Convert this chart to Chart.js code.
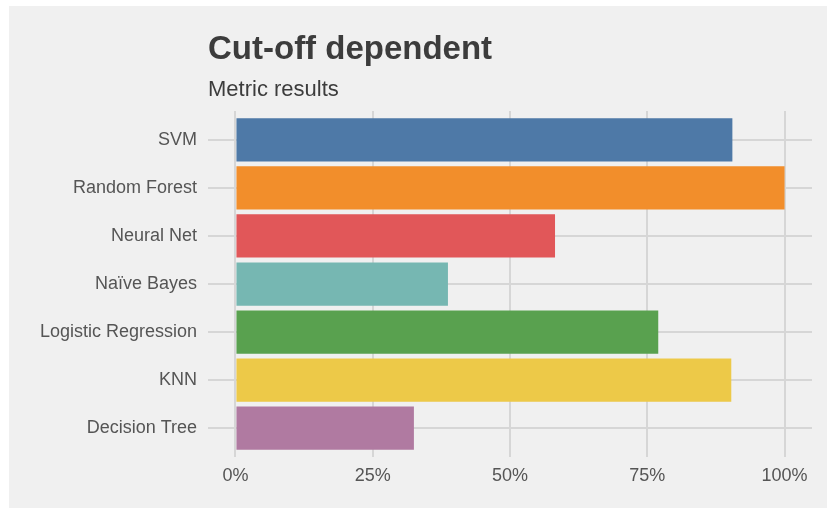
<!DOCTYPE html>
<html>
<head>
<meta charset="utf-8">
<script src="https://cdn.jsdelivr.net/npm/chart.js@4"></script>
<style>
  html, body { margin: 0; padding: 0; background: #ffffff; }
  #panel { position: absolute; left: 9px; top: 6px; width: 818px; height: 502px; background: #f0f0f0; }
  canvas { display: block; }
</style>
</head>
<body>
<div id="panel"><canvas id="chart" width="818" height="502"></canvas></div>
<script>
// Models, top to bottom
const categories = ['SVM', 'Random Forest', 'Neural Net', 'Naïve Bayes', 'Logistic Regression', 'KNN', 'Decision Tree'];
// Metric score per model, in percent
const scores = [90.5, 100, 58.2, 38.7, 77.0, 90.3, 32.5];
// Bar fill per model
const barColors = ['#4e79a7', '#f28e2b', '#e15759', '#76b7b2', '#59a14f', '#edc948', '#b07aa1'];
// Percent ticks on the value axis
const xTicks = [0, 25, 50, 75, 100];

const titleText = 'Cut-off dependent';
const subtitleText = 'Metric results';

const FONT = '"Liberation Sans", Arial, Helvetica, sans-serif';
const TEXT = '#3c3c3c';
const GRID = '#d6d6d6';

// Title block aligned with the left edge of the plotting panel
const headerPlugin = {
  id: 'header',
  afterDraw(chart) {
    const ctx = chart.ctx;
    const left = chart.chartArea.left;
    ctx.save();
    ctx.fillStyle = TEXT;
    ctx.textAlign = 'left';
    ctx.textBaseline = 'alphabetic';
    ctx.font = 'bold 33px ' + FONT;
    ctx.fillText(titleText, left, 53);
    ctx.font = '22px ' + FONT;
    ctx.fillText(subtitleText, left, 90);
    ctx.restore();
  }
};

new Chart(document.getElementById('chart'), {
  type: 'bar',
  data: {
    datasets: [{
      data: categories.map((c, i) => ({ y: i, x: scores[i] })),
      backgroundColor: barColors,
      borderWidth: 0,
      barPercentage: 0.9,
      categoryPercentage: 1.0
    }]
  },
  options: {
    indexAxis: 'y',
    responsive: false,
    animation: false,
    layout: { padding: { top: 105, right: 15, bottom: 0, left: 0 } },
    plugins: {
      legend: { display: false },
      tooltip: { enabled: false },
      title: { display: false }
    },
    scales: {
      x: {
        type: 'linear',
        min: -5,
        max: 105,
        afterBuildTicks(scale) { scale.ticks = xTicks.map(v => ({ value: v })); },
        afterFit(scale) { scale.height = 51; },
        border: { display: false },
        grid: { color: GRID, lineWidth: 2, drawTicks: false },
        ticks: {
          padding: 8,
          color: '#555555',
          font: { family: FONT, size: 18 },
          maxRotation: 0,
          callback: v => v + '%'
        }
      },
      y: {
        type: 'linear',
        reverse: true,
        offset: false,
        min: -0.6,
        max: categories.length - 1 + 0.6,
        afterBuildTicks(scale) { scale.ticks = categories.map((c, i) => ({ value: i })); },
        afterFit(scale) { scale.width = 199; },
        border: { display: false },
        grid: { color: GRID, lineWidth: 2, drawTicks: false, offset: false },
        ticks: {
          padding: 11,
          color: '#555555',
          font: { family: FONT, size: 18 },
          callback: v => categories[v]
        }
      }
    }
  },
  plugins: [headerPlugin]
});
</script>
</body>
</html>
